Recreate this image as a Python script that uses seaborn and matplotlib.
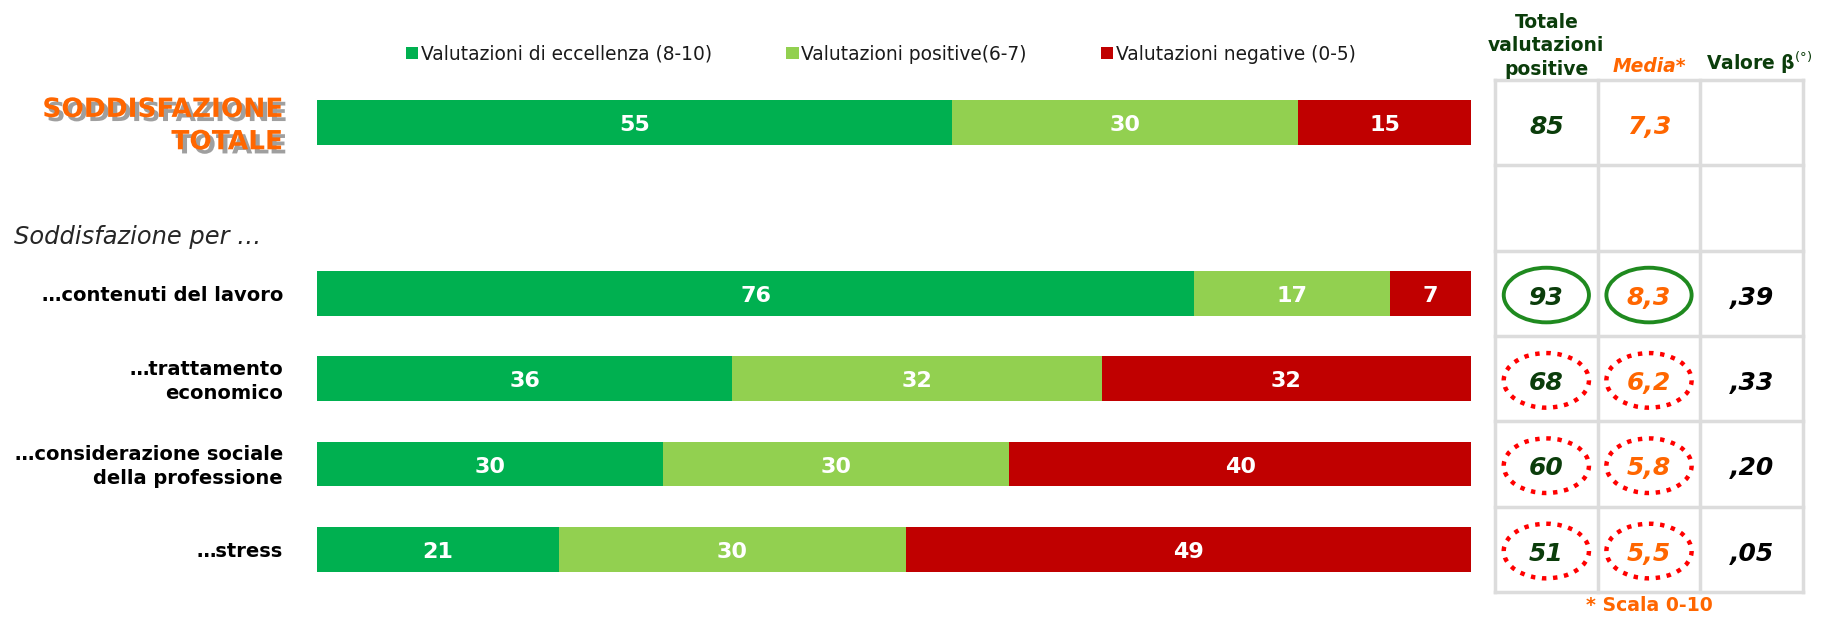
import pandas as pd
import numpy as np
import seaborn as sns
import matplotlib.pyplot as plt
import matplotlib.patheffects as pe
from matplotlib.patches import Patch, Ellipse
from matplotlib.transforms import blended_transform_factory

# dati
righe = ["SODDISFAZIONE TOTALE", "…contenuti del lavoro", "…trattamento\neconomico",
         "…considerazione sociale\ndella professione", "…stress"]
eccellenza = [55, 76, 36, 30, 21]
positive = [30, 17, 32, 30, 30]
negative = [15, 7, 32, 40, 49]
totale_positive = ["85", "93", "68", "60", "51"]
media = ["7,3", "8,3", "6,2", "5,8", "5,5"]
beta = ["", ",39", ",33", ",20", ",05"]
evidenza = ["", "forza", "debolezza", "debolezza", "debolezza"]

serie = ["Valutazioni di eccellenza (8-10)", "Valutazioni positive(6-7)", "Valutazioni negative (0-5)"]
colori = ["#00B050", "#92D050", "#C00000"]

VERDE_SCURO = "#0b3d0b"
ARANCIO = "#FF6600"

sns.set_style("white")
plt.rcParams['font.family'] = ['DejaVu Sans']

df = pd.DataFrame({"riga": righe, "eccellenza": eccellenza,
                   "positive": positive, "negative": negative})
df["cum_pos"] = df["eccellenza"] + df["positive"]
df["cum_tot"] = df["cum_pos"] + df["negative"]

# riga vuota tra il totale e il dettaglio
ordine = [righe[0], "gap"] + righe[1:]
posizioni = [0, 2, 3, 4, 5]

fig = plt.figure(figsize=(18.41, 6.17), dpi=100)
W, H = 1841, 617
top_px, bot_px = 80, 592
ax = fig.add_axes([317 / W, 1 - bot_px / H, 1154 / W, (bot_px - top_px) / H])

# barre impilate: prima il totale, poi sopra le parti cumulate
bar_w = 0.525
for col, c in zip(["cum_tot", "cum_pos", "eccellenza"], colori[::-1]):
    sns.barplot(data=df, x=col, y="riga", order=ordine, color=c,
                width=bar_w, saturation=1, linewidth=0, edgecolor="none", ax=ax)

ax.set_xlim(0, 100)
ax.set_ylim(5.5, -0.5)
ax.set_xlabel("")
ax.set_ylabel("")
ax.set_xticks([])
ax.set_yticks([])
sns.despine(ax=ax, left=True, bottom=True)

# etichette dentro le barre
for pos, (_, r) in zip(posizioni, df.iterrows()):
    parti = [(0, r["eccellenza"]), (r["eccellenza"], r["positive"]), (r["cum_pos"], r["negative"])]
    for start, val in parti:
        ax.text(start + val / 2, pos + 0.03, f"{val}", color="white", fontsize=16,
                fontweight="bold", ha="center", va="center")

# etichette delle righe
trans = blended_transform_factory(fig.transFigure, ax.transData)
ax.text(283 / W, 0.04, "SODDISFAZIONE\nTOTALE", transform=trans, ha="right", va="center",
        multialignment="right", fontsize=19, fontweight="bold", color=ARANCIO,
        linespacing=1.32,
        path_effects=[pe.withSimplePatchShadow(offset=(3, -3), shadow_rgbFace="#7f7f7f", alpha=0.75)])
for pos, lab in zip(posizioni[1:], righe[1:]):
    ax.text(283 / W, pos + 0.03, lab, transform=trans, ha="right", va="center",
            multialignment="right", fontsize=14, fontweight="bold", color="black",
            linespacing=1.35)

fig.text(14 / W, 1 - 237 / H, "Soddisfazione per …", fontsize=17.4, fontstyle="italic",
         ha="left", va="center")

# legenda
handles = [Patch(facecolor=c, edgecolor="none") for c in colori]
fig.legend(handles, serie, loc="center", bbox_to_anchor=(881 / W, 1 - 54 / H), ncol=3,
           frameon=False, fontsize=13.4, handlelength=0.65, handleheight=0.65,
           handletextpad=0.15, columnspacing=4.0, labelcolor="#1a1a1a")

# tabella a destra
tx = fig.add_axes([1495 / W, 1 - bot_px / H, 308 / W, (bot_px - top_px) / H])
tx.set_xlim(0, 3)
tx.set_ylim(5.5, -0.5)
tx.axis("off")
for yl in np.arange(-0.5, 6.0, 1.0):
    tx.plot([0, 3], [yl, yl], color="#dcdcdc", lw=2.5, clip_on=False, solid_capstyle="projecting")
for xl in range(4):
    tx.plot([xl, xl], [-0.5, 5.5], color="#dcdcdc", lw=2.5, clip_on=False, solid_capstyle="projecting")

for pos, tp, m, b, ev in zip(posizioni, totale_positive, media, beta, evidenza):
    tx.text(0.5, pos + 0.05, tp, ha="center", va="center", fontsize=18,
            fontweight="bold", fontstyle="italic", color=VERDE_SCURO)
    tx.text(1.5, pos + 0.05, m, ha="center", va="center", fontsize=18,
            fontweight="bold", fontstyle="italic", color=ARANCIO)
    tx.text(2.5, pos + 0.05, b, ha="center", va="center", fontsize=18,
            fontweight="bold", fontstyle="italic", color="black")
    if ev == "forza":
        stile = dict(edgecolor="#1f8a1f", lw=2.8, ls="-")
    elif ev == "debolezza":
        stile = dict(edgecolor="#ff0000", lw=3.2, ls=(0, (1, 1.5)))
    else:
        continue
    for cx in (0.5, 1.5):
        tx.add_patch(Ellipse((cx, pos + 0.02), 0.83, 0.64, facecolor="none", **stile))

# intestazioni tabella
tx.text(0.5, -0.90, "Totale\nvalutazioni\npositive", ha="center", va="center",
        fontsize=13.5, fontweight="bold", color=VERDE_SCURO, linespacing=1.28)
tx.text(1.5, -0.66, "Media*", ha="center", va="center", fontsize=13.5,
        fontweight="bold", fontstyle="italic", color=ARANCIO)
tx.text(2.06, -0.70, r"Valore β$^{(°)}$", ha="left", va="center", fontsize=13.5,
        fontweight="bold", color=VERDE_SCURO)
tx.text(1.5, 5.66, "* Scala 0-10", ha="center", va="center", fontsize=13.6,
        fontweight="bold", color=ARANCIO)

fig.savefig("out.png", dpi=100, facecolor="white")
